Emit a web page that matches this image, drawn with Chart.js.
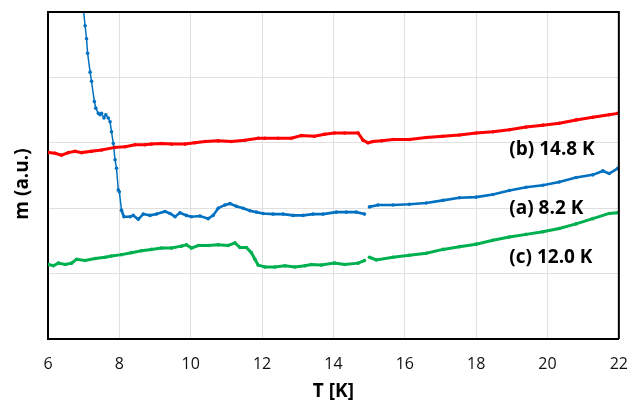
<!DOCTYPE html>
<html>
<head>
<meta charset="utf-8">
<script src="https://cdn.jsdelivr.net/npm/chart.js@4.4.1/dist/chart.umd.min.js"></script>
<style>
    html, body { margin: 0; padding: 0; background: #fff; }
    #wrap { width: 628px; height: 403px; position: relative; }
</style>
</head>
<body>
<div id="wrap"><canvas id="mChart"></canvas></div>
<script>
// (b) 14.8 K - red
const redT = [6.01, 6.2, 6.38, 6.57, 6.76, 6.94, 7.22, 7.5, 7.88, 8.16, 8.44, 8.72, 8.9, 9.18, 9.46, 9.84, 10.12, 10.4, 10.77, 11.14, 11.52, 11.89, 12.08, 12.45, 12.82, 13.1, 13.47, 13.75, 14.03, 14.31, 14.69, 14.83, 14.97, 15.11, 15.35, 15.67, 16.13, 16.6, 17.07, 17.53, 18.0, 18.47, 18.93, 19.4, 19.87, 20.33, 20.8, 21.27, 21.73, 21.97];
const redM = [2.85, 2.84, 2.81, 2.85, 2.87, 2.85, 2.87, 2.89, 2.93, 2.94, 2.97, 2.97, 2.98, 2.99, 2.98, 2.98, 3.0, 3.02, 3.03, 3.02, 3.04, 3.07, 3.07, 3.07, 3.07, 3.11, 3.1, 3.13, 3.15, 3.15, 3.15, 3.04, 3.0, 3.02, 3.03, 3.05, 3.05, 3.08, 3.1, 3.12, 3.15, 3.17, 3.2, 3.24, 3.27, 3.3, 3.35, 3.39, 3.43, 3.45];

// (a) 8.2 K - blue (null = break in the curve)
const blueT = [6.98, 7.04, 7.08, 7.11, 7.18, 7.22, 7.3, 7.34, 7.41, 7.46, 7.5, 7.57, 7.62, 7.69, 7.74, 7.78, 7.83, 7.88, 7.92, 7.97, 8.0, 8.06, 8.13, 8.3, 8.39, 8.53, 8.67, 8.86, 9.04, 9.28, 9.42, 9.56, 9.7, 9.88, 10.02, 10.26, 10.49, 10.63, 10.77, 10.96, 11.1, 11.28, 11.47, 11.66, 11.84, 12.03, 12.31, 12.59, 12.87, 13.15, 13.43, 13.71, 14.08, 14.36, 14.64, 14.87, 14.93, 15.01, 15.25, 15.67, 16.13, 16.6, 17.07, 17.53, 18.0, 18.47, 18.93, 19.4, 19.87, 20.33, 20.8, 21.27, 21.55, 21.73, 21.97];
const blueM = [5.1, 4.79, 4.59, 4.37, 4.08, 3.94, 3.63, 3.53, 3.45, 3.43, 3.45, 3.38, 3.43, 3.38, 3.32, 3.17, 2.99, 2.74, 2.61, 2.28, 2.25, 1.97, 1.87, 1.87, 1.89, 1.83, 1.91, 1.89, 1.91, 1.95, 1.92, 1.87, 1.93, 1.89, 1.87, 1.88, 1.84, 1.89, 2.0, 2.05, 2.07, 2.03, 2.0, 1.96, 1.94, 1.92, 1.91, 1.91, 1.89, 1.89, 1.91, 1.91, 1.94, 1.94, 1.94, 1.91, null, 2.02, 2.05, 2.05, 2.06, 2.08, 2.12, 2.16, 2.17, 2.21, 2.27, 2.32, 2.35, 2.4, 2.47, 2.51, 2.57, 2.53, 2.61];

// (c) 12.0 K - green
const greenT = [6.01, 6.15, 6.29, 6.48, 6.66, 6.8, 7.04, 7.32, 7.6, 7.78, 8.06, 8.34, 8.62, 8.9, 9.18, 9.46, 9.74, 9.88, 10.02, 10.21, 10.49, 10.77, 11.05, 11.24, 11.38, 11.56, 11.7, 11.8, 11.89, 12.08, 12.36, 12.64, 12.92, 13.2, 13.38, 13.66, 14.03, 14.31, 14.69, 14.87, 14.93, 15.01, 15.2, 15.67, 16.13, 16.6, 17.07, 17.53, 18.0, 18.47, 18.93, 19.4, 19.87, 20.33, 20.8, 21.27, 21.73, 21.97];
const greenM = [1.14, 1.12, 1.16, 1.14, 1.16, 1.22, 1.2, 1.23, 1.25, 1.27, 1.29, 1.32, 1.35, 1.37, 1.39, 1.39, 1.42, 1.44, 1.39, 1.43, 1.43, 1.44, 1.43, 1.47, 1.4, 1.4, 1.32, 1.22, 1.13, 1.1, 1.1, 1.12, 1.1, 1.12, 1.14, 1.13, 1.16, 1.14, 1.16, 1.2, null, 1.25, 1.21, 1.25, 1.28, 1.31, 1.37, 1.41, 1.45, 1.51, 1.56, 1.6, 1.64, 1.69, 1.76, 1.84, 1.92, 1.93];

const xTicks = [6, 8, 10, 12, 14, 16, 18, 20, 22];
const seriesLabels = ['(b) 14.8 K', '(a) 8.2 K', '(c) 12.0 K'];

const toPoints = (t, m) => t.map((x, i) => ({ x: x, y: m[i] }));

// frame, y title and curve labels
const annotatePlugin = {
    id: 'annotate',
    afterDraw(chart) {
        const { ctx, chartArea: a, scales } = chart;
        ctx.save();
        ctx.strokeStyle = '#000';
        ctx.lineWidth = 2;
        ctx.beginPath();
        ctx.moveTo(a.left, a.top);
        ctx.lineTo(a.right, a.top);
        ctx.lineTo(a.right, a.bottom);
        ctx.stroke();

        ctx.fillStyle = '#000';
        ctx.font = 'bold 19px "Open Sans"';
        ctx.textBaseline = 'middle';
        ctx.textAlign = 'left';
        const lx = scales.x.getPixelForValue(18.93);
        const ly = [2.9, 2.0, 1.25];
        seriesLabels.forEach((s, i) => ctx.fillText(s, lx, scales.y.getPixelForValue(ly[i])));

        ctx.translate(23, 184);
        ctx.rotate(-Math.PI / 2);
        ctx.textAlign = 'center';
        ctx.fillText('m (a.u.)', 0, 0);
        ctx.restore();
    }
};

const common = { pointRadius: 1.8, pointBorderWidth: 0, tension: 0, spanGaps: false };

new Chart(document.getElementById('mChart'), {
    type: 'line',
    data: {
        datasets: [
            { label: seriesLabels[0], data: toPoints(redT, redM), borderColor: '#ff0000', backgroundColor: '#ff0000', borderWidth: 3, ...common },
            {
                label: seriesLabels[1], data: toPoints(blueT, blueM), borderColor: '#0070c0', backgroundColor: '#0070c0', borderWidth: 2.6, ...common,
                // the steep drop below 8 K is drawn thin in the original
                segment: { borderWidth: c => c.p1.parsed.x <= 8.06 ? 1.5 : undefined }
            },
            { label: seriesLabels[2], data: toPoints(greenT, greenM), borderColor: '#00b050', backgroundColor: '#00b050', borderWidth: 3, ...common }
        ]
    },
    options: {
        responsive: true,
        maintainAspectRatio: false,
        animation: false,
        layout: { padding: { left: 48, right: 0, top: 12, bottom: 0 } },
        plugins: { legend: { display: false }, tooltip: { enabled: false } },
        scales: {
            x: {
                type: 'linear', min: 6, max: 22,
                afterBuildTicks: axis => { axis.ticks = xTicks.map(v => ({ value: v })); },
                grid: { color: '#e0e0e0', drawTicks: true, tickLength: 16, tickColor: 'rgba(0,0,0,0)' },
                border: { color: '#000', width: 2 },
                ticks: { padding: 0, color: '#111', font: { family: 'Open Sans', size: 16 } },
                title: { display: true, text: 'T [K]', color: '#000', padding: { top: 6, bottom: 0 }, font: { family: 'Open Sans', size: 19, weight: 'bold' } }
            },
            y: {
                min: 0, max: 5,
                ticks: { display: false, stepSize: 1 },
                grid: { color: '#e0e0e0', drawTicks: false },
                border: { color: '#000', width: 2 }
            }
        }
    },
    plugins: [annotatePlugin]
});
</script>
</body>
</html>
